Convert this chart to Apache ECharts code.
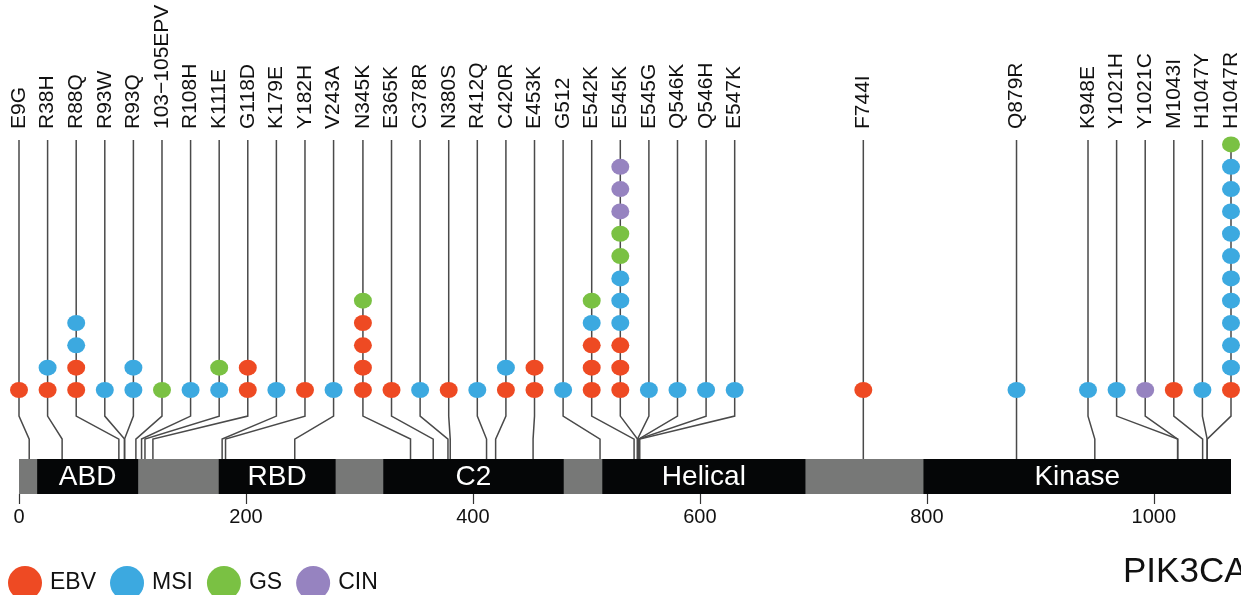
<!DOCTYPE html>
<html>
<head>
<meta charset="utf-8">
<script src="https://cdn.jsdelivr.net/npm/echarts@6/dist/echarts.min.js"></script>
<style>
  html, body { margin: 0; padding: 0; background: #fff; }
  #chart { width: 1241px; height: 595px; }
</style>
</head>
<body>
<div id="chart"></div>
<script>
// PIK3CA mutations, one entry per lollipop
const proteinLength = 1068;
const mutationLabels = ['E9G', 'R38H', 'R88Q', 'R93W', 'R93Q', '103\u2212105EPV', 'R108H', 'K111E', 'G118D',
  'K179E', 'Y182H', 'V243A', 'N345K', 'E365K', 'C378R', 'N380S', 'R412Q', 'C420R', 'E453K', 'G512',
  'E542K', 'E545K', 'E545G', 'Q546K', 'Q546H', 'E547K', 'F744I', 'Q879R', 'K948E', 'Y1021H', 'Y1021C',
  'M1043I', 'H1047Y', 'H1047R'];
const mutationPositions = [9, 38, 88, 93, 93, 103, 108, 111, 118, 179, 182, 243, 345, 365, 378, 380, 412,
  420, 453, 512, 542, 545, 545, 546, 546, 547, 744, 879, 948, 1021, 1021, 1043, 1047, 1047];
// number of samples per subtype (stacked bottom to top: EBV, MSI, GS, CIN)
const ebvCounts = [1, 1, 2, 0, 0, 0, 0, 0, 2, 0, 1, 0, 4, 1, 0, 1, 0, 1, 2, 0, 3, 3, 0, 0, 0, 0, 1, 0, 0, 0, 0, 1, 0, 1];
const msiCounts = [0, 1, 2, 1, 2, 0, 1, 1, 0, 1, 0, 1, 0, 0, 1, 0, 1, 1, 0, 1, 1, 3, 1, 1, 1, 1, 0, 1, 1, 1, 0, 0, 1, 10];
const gsCounts  = [0, 0, 0, 0, 0, 1, 0, 1, 0, 0, 0, 0, 1, 0, 0, 0, 0, 0, 0, 0, 1, 2, 0, 0, 0, 0, 0, 0, 0, 0, 0, 0, 0, 1];
const cinCounts = [0, 0, 0, 0, 0, 0, 0, 0, 0, 0, 0, 0, 0, 0, 0, 0, 0, 0, 0, 0, 0, 3, 0, 0, 0, 0, 0, 0, 0, 0, 1, 0, 0, 0];

const domainNames = ['ABD', 'RBD', 'C2', 'Helical', 'Kinase'];
const domainStarts = [16, 176, 321, 514, 797];
const domainEnds = [105, 279, 480, 693, 1068];
const axisTicks = [0, 200, 400, 600, 800, 1000];

const subtypeNames = ['EBV', 'MSI', 'GS', 'CIN'];
const subtypeColors = ['#EE4A23', '#3CA9E0', '#7AC143', '#9683C0'];
const subtypeCounts = [ebvCounts, msiCounts, gsCounts, cinCounts];

// vertical layout in "dot rows" (row 0 = lowest dot)
const stemTop = 11.2, bendA = -1.17, bendB = -2.2, barTop = -3.09, barBottom = -4.66;
const font = "'Liberation Sans', Arial, Helvetica, sans-serif";

// spread the label slots so they keep a minimum gap, like a lollipop plot does
const spreadSlots = (pos, gap, lo, hi) => {
  const groups = pos.map((p, i) => ({ first: i, n: 1, sum: p, x: p }));
  const place = g => {
    let s = g.sum / g.n - (g.n - 1) * gap / 2;
    s = Math.max(lo, Math.min(s, hi - (g.n - 1) * gap));
    g.x = s;
  };
  groups.forEach(place);
  let changed = true;
  while (changed) {
    changed = false;
    for (let i = 0; i < groups.length - 1; i++) {
      const a = groups[i], b = groups[i + 1];
      if (a.x + (a.n - 1) * gap + gap > b.x + 1e-6) {
        a.n += b.n; a.sum += b.sum;
        groups.splice(i + 1, 1);
        place(a);
        changed = true;
        break;
      }
    }
  }
  const slots = [];
  groups.forEach(g => { for (let k = 0; k < g.n; k++) slots.push(g.x + k * gap); });
  return slots;
};
const slots = spreadSlots(mutationPositions, 25.2, 0, proteinLength);

// dots per subtype
const levels = mutationLabels.map(() => 0);
const dotSeries = subtypeNames.map((name, s) => {
  const data = [];
  subtypeCounts[s].forEach((c, i) => {
    for (let k = 0; k < c; k++) { data.push([slots[i], levels[i]]); levels[i]++; }
  });
  return {
    name,
    type: 'scatter',
    data,
    symbol: 'circle',
    symbolSize: [18, 16],
    itemStyle: { color: subtypeColors[s], opacity: 1 },
    z: 5,
    silent: true
  };
});

const stemData = mutationLabels.map((l, i) => [slots[i], mutationPositions[i], i]);
const domainData = domainNames.map((n, i) => [domainStarts[i], domainEnds[i], i]);

const chart = echarts.init(document.getElementById('chart'));
chart.setOption({
  animation: false,
  title: {
    text: 'PIK3CA', left: 1123, top: 555, padding: 0,
    textStyle: { fontSize: 35, fontWeight: 'normal', color: '#111', fontFamily: font }
  },
  legend: {
    left: 8, top: 566, icon: 'circle', itemWidth: 34, itemHeight: 34, itemGap: 14, padding: 0,
    data: subtypeNames,
    textStyle: { fontSize: 23, color: '#111', fontFamily: font, padding: [0, 0, 0, 3] }
  },
  grid: { left: 19, right: 10, top: 140, bottom: 101 },
  xAxis: {
    type: 'value', min: 0, max: proteinLength,
    axisLine: { show: false, onZero: false },
    axisTick: { show: true, customValues: axisTicks, length: 10, lineStyle: { color: '#333', width: 1.2 } },
    axisLabel: { customValues: axisTicks, fontSize: 20, color: '#111', margin: 13, fontFamily: font,
      formatter: v => String(v) },
    splitLine: { show: false }
  },
  yAxis: { type: 'value', min: barBottom, max: stemTop, show: false },
  series: [
    {
      type: 'custom',
      name: 'stems',
      data: stemData,
      z: 2,
      silent: true,
      renderItem: (params, api) => {
        const slot = api.value(0), pos = api.value(1);
        const top = api.coord([slot, stemTop]);
        const a = api.coord([slot, bendA]);
        const b = api.coord([pos, bendB]);
        const c = api.coord([pos, barTop]);
        return {
          type: 'group',
          children: [
            { type: 'polyline', shape: { points: [top, a, b, c] },
              style: { stroke: '#4a4a4a', lineWidth: 1.5, fill: null } },
            { type: 'text', x: top[0], y: top[1] - 11, rotation: Math.PI / 2,
              style: { text: mutationLabels[api.value(2)], align: 'left', verticalAlign: 'middle',
                font: '21px ' + font, fill: '#111' } }
          ]
        };
      }
    },
    {
      type: 'custom',
      name: 'protein',
      data: [[0, proteinLength]],
      z: 1,
      silent: true,
      renderItem: (params, api) => {
        const p0 = api.coord([api.value(0), barTop]);
        const p1 = api.coord([api.value(1), barBottom]);
        return { type: 'rect', shape: { x: p0[0], y: p0[1], width: p1[0] - p0[0], height: p1[1] - p0[1] },
          style: { fill: '#777877' } };
      }
    },
    {
      type: 'custom',
      name: 'domains',
      data: domainData,
      z: 3,
      silent: true,
      renderItem: (params, api) => {
        const p0 = api.coord([api.value(0), barTop]);
        const p1 = api.coord([api.value(1), barBottom]);
        return {
          type: 'group',
          children: [
            { type: 'rect', shape: { x: p0[0], y: p0[1], width: p1[0] - p0[0], height: p1[1] - p0[1] },
              style: { fill: '#050607' } },
            { type: 'text', x: (p0[0] + p1[0]) / 2, y: (p0[1] + p1[1]) / 2 + 1,
              style: { text: domainNames[api.value(2)], align: 'center', verticalAlign: 'middle',
                font: '28px ' + font, fill: '#fff' } }
          ]
        };
      }
    },
    ...dotSeries
  ]
});
</script>
</body>
</html>
